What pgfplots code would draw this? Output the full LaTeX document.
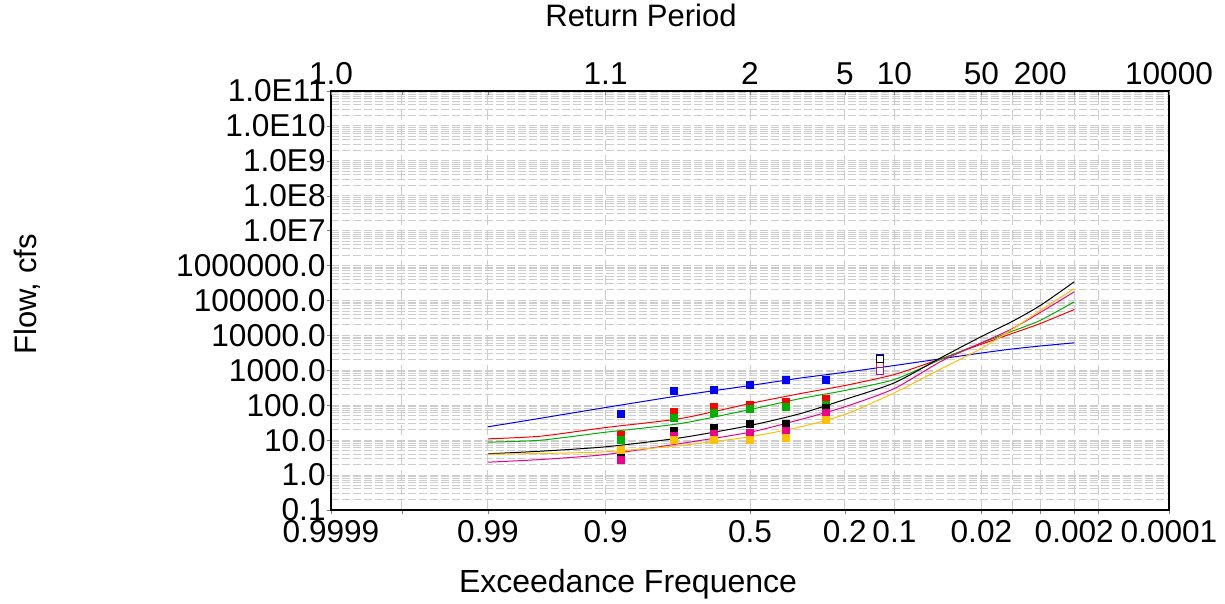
\documentclass[border=0pt]{standalone}
\usepackage{fontspec}
\setmainfont{Liberation Sans}
\usepackage{pgfplots}
\pgfplotsset{compat=1.18}

\definecolor{fgreen}{RGB}{0,176,0}
\definecolor{forange}{RGB}{255,192,0}
\definecolor{gridc}{RGB}{205,205,205}

% x axis: standard normal quantile of (1 - exceedance probability)
\begin{document}
\begin{tikzpicture}
\useasboundingbox (-165.5pt,-47pt) rectangle (447pt,255pt);

\begin{axis}[
    at={(0,0)}, anchor=south west,
    width=419pt, height=209.5pt, scale only axis,
    xmin=-3.719, xmax=3.719,
    ymode=log, ymin=0.1, ymax=1e11,
    font=\fontsize{15.8}{17}\selectfont,
    /pgf/number format/assume math mode=true,
    axis line style={line width=0.6pt},
    tick align=outside, major tick length=2pt, minor tick length=0pt,
    xtick pos=left, ytick pos=left,
    xtick={-3.719,-3.090,-2.326,-1.2816,0,0.8416,1.2816,2.054,2.326,2.576,2.878,3.090,3.719},
    xticklabels={0.9999,,0.99,0.9,0.5,0.2,0.1,0.02,,,0.002,,0.0001},
    ytick={0.1,1,10,100,1000,10000,100000,1000000,1e7,1e8,1e9,1e10,1e11},
    yticklabels={0.1,1.0,10.0,100.0,1000.0,10000.0,100000.0,1000000.0,1.0E7,1.0E8,1.0E9,1.0E10,1.0E11},
    log identify minor tick positions=true,
    xmajorgrids, ymajorgrids, yminorgrids,
    every major x grid/.style={gridc, line width=0.5pt, dash pattern=on 5pt off 2.5pt},
    every major y grid/.style={gridc, line width=0.5pt, dash pattern=on 4pt off 1.5pt},
    every minor y grid/.style={gridc, line width=0.5pt, dash pattern=on 4pt off 1.5pt},
    xticklabel style={inner sep=0pt, yshift=-3pt},
    yticklabel style={inner sep=0pt, xshift=-0.5pt},
    clip=false,
]

% fitted frequency curves
\addplot[blue, line width=0.5pt, smooth, tension=0.4] coordinates {
  (-2.326,24.1) (-1.858,42.5) (-1.2816,86.1) (-0.615,190) (0,367) (0.45,603)
  (0.8416,877) (1.2816,1374) (1.693,2138) (2.054,3133) (2.326,4080) (2.576,4970) (2.878,6140)};
\addplot[red, line width=0.5pt, smooth, tension=0.4] coordinates {
  (-2.326,10.9) (-1.858,13.0) (-1.2816,23.0) (-0.615,41.7) (0,112) (0.45,217)
  (0.8416,367) (1.2816,759) (1.693,2138) (2.054,5600) (2.326,11330) (2.576,21900) (2.878,55200)};
\addplot[fgreen, line width=0.5pt, smooth, tension=0.4] coordinates {
  (-2.326,8.75) (-1.858,9.97) (-1.2816,16.9) (-0.615,30.0) (0,75.5) (0.45,156)
  (0.8416,264) (1.2816,546) (1.693,2042) (2.054,6060) (2.326,13100) (2.576,26900) (2.878,91600)};
\addplot[black, line width=0.5pt, smooth, tension=0.4] coordinates {
  (-2.326,4.07) (-1.858,4.83) (-1.2816,6.45) (-0.615,11.7) (0,26.3) (0.45,58.0)
  (0.8416,146) (1.2816,439) (1.693,2285) (2.054,9290) (2.326,25000) (2.576,71800) (2.878,343000)};
\addplot[magenta, line width=0.5pt, smooth, tension=0.4] coordinates {
  (-2.326,2.34) (-1.858,2.79) (-1.2816,3.88) (-0.615,8.02) (0,16.9) (0.45,39.1)
  (0.8416,90.2) (1.2816,301) (1.693,1790) (2.054,6140) (2.326,15450) (2.576,45300) (2.878,177000)};
\addplot[forange, line width=0.5pt, smooth, tension=0.4] coordinates {
  (-2.326,3.96) (-1.858,4.15) (-1.2816,4.64) (-0.615,7.03) (0,12.5) (0.45,24.1)
  (0.8416,54.3) (1.2816,227) (1.693,1090) (2.054,4220) (2.326,14760) (2.576,51600) (2.878,220000)};

% observed flows (Weibull plotting positions, n = 7)
\addplot[only marks, mark=square*, mark size=1.75pt, blue] coordinates {
  (-1.1503,57) (-0.6745,264) (-0.3186,270) (0,375) (0.3186,521) (0.6745,535)};
\addplot[only marks, mark=square*, mark size=1.75pt, red] coordinates {
  (-1.1503,14.3) (-0.6745,65) (-0.3186,90) (0,105) (0.3186,128) (0.6745,153)};
\addplot[only marks, mark=square*, mark size=1.75pt, fgreen] coordinates {
  (-1.1503,10.4) (-0.6745,43.7) (-0.3186,61) (0,80.7) (0.3186,88) (0.6745,105)};
\addplot[only marks, mark=square*, mark size=1.75pt, black] coordinates {
  (-1.1503,3.9) (-0.6745,18) (-0.3186,22.6) (0,29.8) (0.3186,29.8) (0.6745,85)};
\addplot[only marks, mark=square*, mark size=1.75pt, magenta] coordinates {
  (-1.1503,2.8) (-0.6745,13.6) (-0.3186,15.5) (0,16.3) (0.3186,18) (0.6745,61)};
\addplot[only marks, mark=square*, mark size=1.75pt, forange] coordinates {
  (-1.1503,5.4) (-0.6745,10) (-0.3186,10) (0,10.4) (0.3186,11.7) (0.6745,39)};

% largest events, open squares
\addplot[only marks, mark=square*, mark size=1.75pt, mark options={draw=blue, fill=white}] coordinates {(1.1503,2250)};
\addplot[only marks, mark=square*, mark size=1.75pt, mark options={draw=red, fill=white}] coordinates {(1.1503,1312)};
\addplot[only marks, mark=square*, mark size=1.75pt, mark options={draw=magenta!70!blue, fill=white}] coordinates {(1.1503,944)};
\addplot[only marks, mark=square*, mark size=1.75pt, mark options={draw=black, fill=white}] coordinates {(1.1503,2080)};
\end{axis}

% return period scale on top
\begin{axis}[
    at={(0,0)}, anchor=south west,
    width=419pt, height=209.5pt, scale only axis,
    xmin=-3.719, xmax=3.719, ymin=0, ymax=1,
    font=\fontsize{15.8}{17}\selectfont,
    axis x line*=top, axis y line=none,
    axis line style={line width=0.6pt, -},
    tick align=inside, major tick length=2pt,
    xtick={-3.719,-3.090,-2.326,-1.2816,0,0.8416,1.2816,2.054,2.326,2.576,2.878,3.090,3.719},
    xticklabels={1.0,,,1.1,2,5,10,50,,200,,,10000},
    xticklabel style={inner sep=0pt, yshift=3pt},
]
\end{axis}

\node[font=\fontsize{15.5}{17}\selectfont, anchor=base] at (155pt,241.75pt) {Return Period};
\node[font=\fontsize{16}{17}\selectfont, anchor=base] at (148.5pt,-41.4pt) {Exceedance Frequence};
\node[font=\fontsize{15.5}{17}\selectfont, anchor=base, rotate=90] at (-147pt,107.75pt) {Flow, cfs};
\end{tikzpicture}
\end{document}
